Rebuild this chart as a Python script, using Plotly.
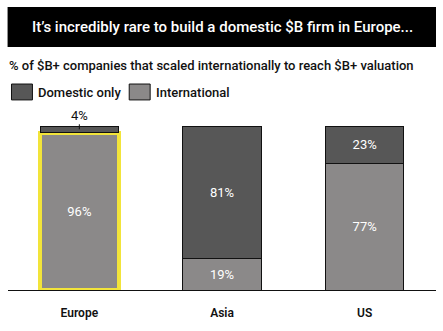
import plotly.graph_objects as go

regions = ["Europe", "Asia", "US"]
domestic = [4, 81, 23]
international = [96, 19, 77]
series_names = ["Domestic only", "International"]
title_text = "It\u2019s incredibly rare to build a domestic $B firm in Europe..."
subtitle_text = "% of $B+ companies that scaled internationally to reach $B+ valuation"

DOM_COLOR = "#575757"
INT_COLOR = "#8b8989"
HIGHLIGHT = "#f2e43a"
FONT = "Roboto"

fig = go.Figure()

intl_line_colors = [HIGHLIGHT if r == "Europe" else "#111111" for r in regions]
intl_line_widths = [4 if r == "Europe" else 1 for r in regions]

fig.add_trace(go.Bar(
    x=regions, y=international, name=series_names[1],
    marker=dict(color=INT_COLOR, line=dict(color=intl_line_colors, width=intl_line_widths)),
    text=[f"{v}%" for v in international], textposition="inside",
    insidetextanchor="middle",
    textfont=dict(color="white", size=13, family=FONT),
    width=0.55, showlegend=False,
))
dom_text = [f"{v}%" if v >= 10 else "" for v in domestic]
fig.add_trace(go.Bar(
    x=regions, y=domestic, name=series_names[0],
    marker=dict(color=DOM_COLOR, line=dict(color="#111111", width=1)),
    text=dom_text, textposition="inside", insidetextanchor="middle",
    textfont=dict(color="white", size=13, family=FONT),
    width=0.55, showlegend=False,
))

# small label above the thin Europe domestic segment
for r, d, i in zip(regions, domestic, international):
    if d < 10:
        fig.add_annotation(x=r, y=i + d / 2, text=f"{d}%", showarrow=True,
                           arrowhead=0, arrowwidth=1, arrowcolor="#111111",
                           ax=0, ay=-14, yanchor="middle", standoff=0,
                           font=dict(size=13, color="#111111", family=FONT))

# title bar
fig.add_shape(type="rect", xref="paper", yref="paper", x0=-0.001, x1=1.0,
              y0=1.482, y1=1.726, fillcolor="black", line=dict(width=0), layer="below")
fig.add_annotation(xref="paper", yref="paper", x=0.5, y=1.604, text=title_text,
                   showarrow=False, xanchor="center", yanchor="middle",
                   font=dict(color="white", size=15, family=FONT, weight=500))
fig.add_annotation(xref="paper", yref="paper", x=-0.002, y=1.366, text=subtitle_text,
                   showarrow=False, xanchor="left", yanchor="middle",
                   font=dict(color="#111111", size=13, family=FONT, weight=500))

# legend (custom swatches)
legend_items = [(series_names[0], DOM_COLOR, 11, 36), (series_names[1], INT_COLOR, 129, 154)]
for name, col, sx, tx in legend_items:
    fig.add_shape(type="rect", xref="paper", yref="paper",
                  x0=(sx - 7.5) / 429, x1=(sx + 21 - 7.5) / 429,
                  y0=1.159, y1=1.256, fillcolor=col, line=dict(color="#111111", width=1))
    fig.add_annotation(xref="paper", yref="paper", x=(tx - 7.5) / 429, y=1.207, text=name,
                       showarrow=False, xanchor="left", yanchor="middle",
                       font=dict(color="#111111", size=13, family=FONT, weight=500))

fig.update_layout(
    barmode="stack",
    width=443, height=331,
    margin=dict(l=7.5, r=6.5, t=126, b=41),
    paper_bgcolor="white", plot_bgcolor="white",
    font=dict(family=FONT, color="#111111"),
    showlegend=False,
    xaxis=dict(showline=True, linecolor="#111111", linewidth=1, showgrid=False,
               ticks="outside", ticklen=12, tickcolor="rgba(0,0,0,0)",
               tickfont=dict(size=12, color="#111111", family=FONT, weight=600),
               range=[-0.5, 2.5]),
    yaxis=dict(visible=False, range=[0, 100]),
)

fig.write_html("out.html")
